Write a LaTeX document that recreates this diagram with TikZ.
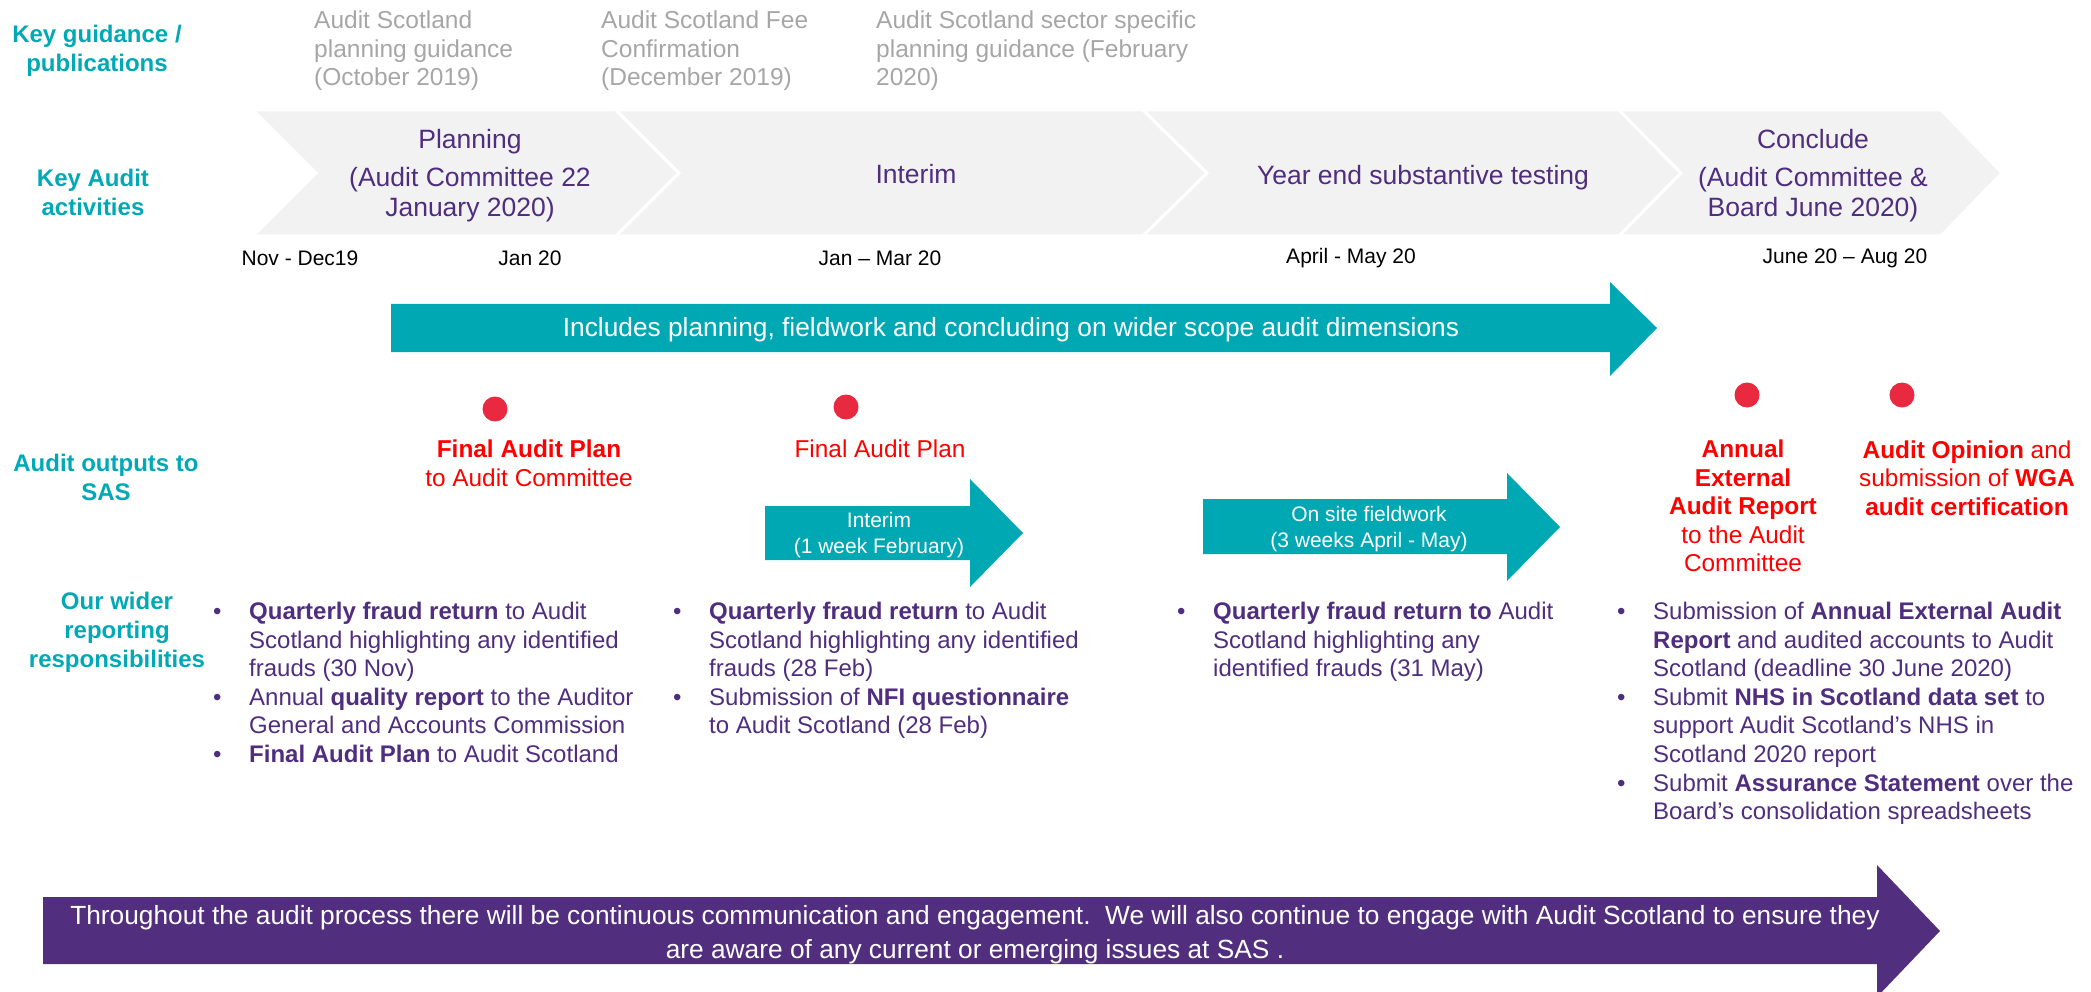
\documentclass[tikz,border=0pt]{standalone}
\usepackage{fontspec}
\setmainfont{Liberation Sans}
\definecolor{auditteal}{HTML}{00A8B4}
\definecolor{labelteal}{HTML}{00A9B5}
\definecolor{auditpurple}{HTML}{4F2D7F}
\definecolor{bandpurple}{HTML}{512F7E}
\definecolor{dotred}{HTML}{E8293F}
\definecolor{outred}{HTML}{FF0000}
\definecolor{guidegray}{HTML}{A6A6A6}
\definecolor{chevgray}{HTML}{F2F2F2}
\newcommand{\lbul}{\makebox[36pt][l]{\textbullet}}
\newcommand{\lind}{\hspace*{36pt}}
\begin{document}
\begin{tikzpicture}[x=1pt,y=-1pt,
  lbl/.style={font=\fontsize{24}{29}\selectfont\bfseries, text=labelteal, align=center, inner sep=0},
  guide/.style={font=\fontsize{24.5}{28.5}\selectfont, text=guidegray, align=left, anchor=north west, inner sep=0},
  chevtxt/.style={font=\fontsize{26.5}{30}\selectfont, text=auditpurple, align=center, inner sep=0},
  datetxt/.style={font=\fontsize{21}{25}\selectfont, text=black, inner sep=0},
  outtxt/.style={font=\fontsize{24.4}{28.6}\selectfont, text=outred, align=center, inner sep=0},
  listtxt/.style={font=\fontsize{24}{28.6}\selectfont, text=auditpurple, align=left, anchor=north west, inner sep=0},
  arrtxt/.style={font=\fontsize{21}{25.5}\selectfont, text=white, align=center, inner sep=0},
  bandtxt/.style={font=\fontsize{26.3}{34}\selectfont, text=white, align=center, inner sep=0},
  chev/.style={fill=chevgray, draw=white, line width=3pt, line join=miter},
  tealarrow/.style={fill=auditteal},
  reddot/.style={fill=dotred},
]
\useasboundingbox (0,0) rectangle (2091,992);

% row labels
\node[lbl] (lguide) at (97,51) {Key guidance /\\publications};
\node[lbl] (lkey) at (93,192) {Key Audit\\activities};
\node[lbl] (lout) at (106,477) {Audit outputs to\\SAS};
\node[lbl] (lwider) at (117,632) {Our wider\\reporting\\responsibilities};

% guidance and publications
\node[guide] (g1) at (314,11) {Audit Scotland\\planning guidance\\(October 2019)};
\node[guide] (g2) at (601,11) {Audit Scotland Fee\\Confirmation\\(December 2019)};
\node[guide] (g3) at (876,11) {Audit Scotland sector specific\\planning guidance (February\\2020)};

% phase chevrons
\path[chev] (253,110) -- (616,110) -- (679,173) -- (616,236) -- (253,236) -- (316,173) -- cycle;
\path[chev] (616,110) -- (1143,110) -- (1207,173) -- (1143,236) -- (616,236) -- (679,173) -- cycle;
\path[chev] (1143,110) -- (1619,110) -- (1681,173) -- (1619,236) -- (1143,236) -- (1207,173) -- cycle;
\path[chev] (1619,110) -- (1941,110) -- (2002,173) -- (1941,236) -- (1619,236) -- (1681,173) -- cycle;

\node[chevtxt] (planning) at (470,176) {Planning\\[8pt](Audit Committee 22\\January 2020)};
\node[chevtxt] (interim) at (916,174) {Interim};
\node[chevtxt] (yearend) at (1423,178) {Year end substantive testing};
\node[chevtxt] (conclude) at (1813,176) {Conclude\\[8pt](Audit Committee \&\\Board June 2020)};

% dates
\node[datetxt] (d1) at (300,258) {Nov - Dec19};
\node[datetxt] (d2) at (530,258) {Jan 20};
\node[datetxt] (d3) at (880,258) {Jan -- Mar 20};
\node[datetxt] (d4) at (1351,258) {April - May 20};
\node[datetxt] (d5) at (1845,258) {June 20 -- Aug 20};

% wider scope arrow
\path[tealarrow] (391,304) -- (1610,304) -- (1610,282) -- (1657,328) -- (1610,376) -- (1610,352) -- (391,352) -- cycle;
\node[font=\fontsize{26.3}{30}\selectfont, text=white, inner sep=0] (wider) at (1011,330)
  {Includes planning, fieldwork and concluding on wider scope audit dimensions};

% output markers
\fill[reddot] (495,409) circle[radius=12.5];
\fill[reddot] (846,407) circle[radius=12.5];
\fill[reddot] (1747,395) circle[radius=12.5];
\fill[reddot] (1902,395) circle[radius=12.5];

\node[outtxt] (o1) at (529,463) {\textbf{Final Audit Plan}\\to Audit Committee};
\node[outtxt] (o2) at (880,449) {Final Audit Plan};
\node[outtxt] (o3) at (1743,506) {\textbf{Annual}\\\textbf{External}\\\textbf{Audit Report}\\to the Audit\\Committee};
\node[outtxt] (o4) at (1967,478) {\textbf{Audit Opinion} and\\submission of \textbf{WGA}\\\textbf{audit certification}};

% fieldwork arrows
\path[tealarrow] (765,506) -- (970,506) -- (970,479) -- (1023,533) -- (970,587) -- (970,560) -- (765,560) -- cycle;
\node[arrtxt] (ainterim) at (879,535) {Interim\\(1 week February)};
\path[tealarrow] (1203,499) -- (1507,499) -- (1507,473) -- (1560,527) -- (1507,581) -- (1507,554) -- (1203,554) -- cycle;
\node[arrtxt] (aonsite) at (1369,529) {On site fieldwork\\(3 weeks April - May)};

% wider reporting responsibilities
\node[listtxt] (r1) at (213,602) {\lbul\textbf{Quarterly fraud return} to Audit\\
\lind Scotland highlighting any identified\\
\lind frauds (30 Nov)\\
\lbul Annual \textbf{quality report} to the Auditor\\
\lind General and Accounts Commission\\
\lbul\textbf{Final Audit Plan} to Audit Scotland};
\node[listtxt] (r2) at (673,602) {\lbul\textbf{Quarterly fraud return} to Audit\\
\lind Scotland highlighting any identified\\
\lind frauds (28 Feb)\\
\lbul Submission of \textbf{NFI questionnaire}\\
\lind to Audit Scotland (28 Feb)};
\node[listtxt] (r3) at (1177,602) {\lbul\textbf{Quarterly fraud return to} Audit\\
\lind Scotland highlighting any\\
\lind identified frauds (31 May)};
\node[listtxt] (r4) at (1617,602) {\lbul Submission of \textbf{Annual External Audit}\\
\lind\textbf{Report} and audited accounts to Audit\\
\lind Scotland (deadline 30 June 2020)\\
\lbul Submit \textbf{NHS in Scotland data set} to\\
\lind support Audit Scotland’s NHS in\\
\lind Scotland 2020 report\\
\lbul Submit \textbf{Assurance Statement} over the\\
\lind Board’s consolidation spreadsheets};

% communication band
\path[fill=bandpurple] (43,897) -- (1877,897) -- (1877,865) -- (1940,931) -- (1877,997) -- (1877,964) -- (43,964) -- cycle;
\node[bandtxt] (band) at (975,935) {Throughout the audit process there will be continuous communication and engagement.\ \ We will also continue to engage with Audit Scotland to ensure they\\are aware of any current or emerging issues at SAS .};
\end{tikzpicture}
\end{document}
